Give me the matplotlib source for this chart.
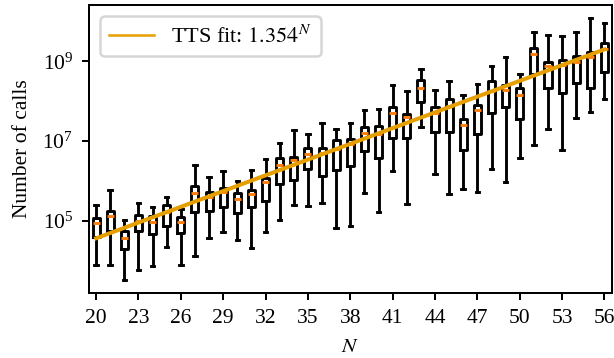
import numpy as np
import matplotlib
matplotlib.use("Agg")
import matplotlib.pyplot as plt
from matplotlib.ticker import FixedLocator, NullLocator

# Problem sizes
N = list(range(20, 57))

# log10 of number of calls
log_whislo = [3.883, 3.891, 3.522, 3.758, 3.858, 4.341, 3.891, 4.108, 4.559, 4.725,
              4.517, 4.324, 4.725, 5.018, 5.386, 5.368, 5.436, 4.825, 4.875, 5.686,
              5.225, 6.245, 5.418, 7.364, 6.162, 5.661, 5.786, 5.726, 6.312, 5.977,
              6.588, 6.903, 7.297, 6.778, 7.572, 7.740, 8.055]
log_q1 = [4.599, 4.742, 4.284, 4.742, 4.667, 4.875, 4.699, 5.218, 5.235, 5.343,
          5.200, 5.343, 5.493, 5.927, 6.012, 6.302, 6.119, 6.270, 6.377, 6.763,
          6.563, 7.089, 7.084, 7.990, 7.221, 7.221, 6.778, 7.179, 7.697, 7.847,
          7.547, 8.681, 8.341, 8.216, 8.456, 8.341, 8.732]
log_med = [4.935, 5.110, 4.567, 5.000, 4.967, 5.218, 4.975, 5.701, 5.594, 5.719,
           5.543, 5.661, 5.962, 6.395, 6.513, 6.670, 6.713, 6.803, 6.938, 7.214,
           7.189, 7.705, 7.602, 8.341, 7.705, 7.880, 7.397, 7.780, 8.256, 8.291,
           8.148, 9.182, 8.892, 8.917, 8.982, 9.107, 9.318]
log_q3 = [5.075, 5.235, 4.742, 5.143, 5.125, 5.393, 5.085, 5.869, 5.711, 5.819,
          5.701, 5.761, 6.077, 6.570, 6.595, 6.828, 6.821, 7.021, 7.064, 7.364,
          7.379, 7.865, 7.667, 8.524, 7.855, 8.065, 7.554, 7.905, 8.506, 8.416,
          8.323, 9.325, 8.992, 9.025, 9.125, 9.232, 9.458]
log_whishi = [5.393, 5.769, 5.010, 5.451, 5.351, 5.594, 5.301, 6.402, 6.102, 6.245,
              6.002, 6.287, 6.545, 6.963, 7.271, 7.179, 7.454, 7.297, 7.464, 7.790,
              7.815, 8.398, 8.266, 8.799, 8.291, 8.506, 8.148, 8.441, 8.892, 9.107,
              8.674, 9.743, 9.651, 9.626, 9.726, 10.084, 9.969]

# TTS fit: amp * base**N
fit_base = 1.354
fit_amp = 85.0

x_ticks = list(range(20, 57, 3))
y_ticks = [1e5, 1e7, 1e9]

plt.rcParams['font.family'] = ['Liberation Serif', 'DejaVu Serif']
plt.rcParams['mathtext.fontset'] = 'stix'
plt.rcParams['font.size'] = 8.6

fig = plt.figure(figsize=(614 / 180, 358 / 180), dpi=180)
ax = fig.add_axes([0.145, 0.182, 0.851, 0.804])

stats = []
for i in range(len(N)):
    stats.append(dict(
        whislo=10 ** log_whislo[i], q1=10 ** log_q1[i], med=10 ** log_med[i],
        q3=10 ** log_q3[i], whishi=10 ** log_whishi[i], fliers=[]))

lw = 1.15
ax.bxp(stats, positions=N, widths=0.5, showfliers=False, manage_ticks=False,
       boxprops=dict(color='black', linewidth=lw),
       whiskerprops=dict(color='black', linewidth=lw),
       capprops=dict(color='black', linewidth=lw),
       medianprops=dict(color='#ff7f0e', linewidth=lw))

Nf = np.array(N, dtype=float)
ax.plot(Nf, fit_amp * fit_base ** Nf, color='#e69f00', linewidth=1.6,
        label=r'TTS fit: $1.354^{N}$', zorder=3)

ax.set_yscale('log')
ax.set_xlim(19.5, 56.5)
ax.yaxis.set_major_locator(FixedLocator(y_ticks))
ax.yaxis.set_minor_locator(NullLocator())
ax.set_xticks(x_ticks)
ax.set_xticklabels([str(t) for t in x_ticks])
ax.tick_params(axis='both', which='major', length=2.8, width=0.8, labelsize=8.6)
for s in ax.spines.values():
    s.set_linewidth(0.8)

ax.set_xlabel(r'$N$')
ax.set_ylabel('Number of calls')
leg = ax.legend(loc='upper left', fontsize=8.9)
for ln in leg.get_lines():
    ln.set_linewidth(1.0)

fig.savefig('out.png', dpi=180)
